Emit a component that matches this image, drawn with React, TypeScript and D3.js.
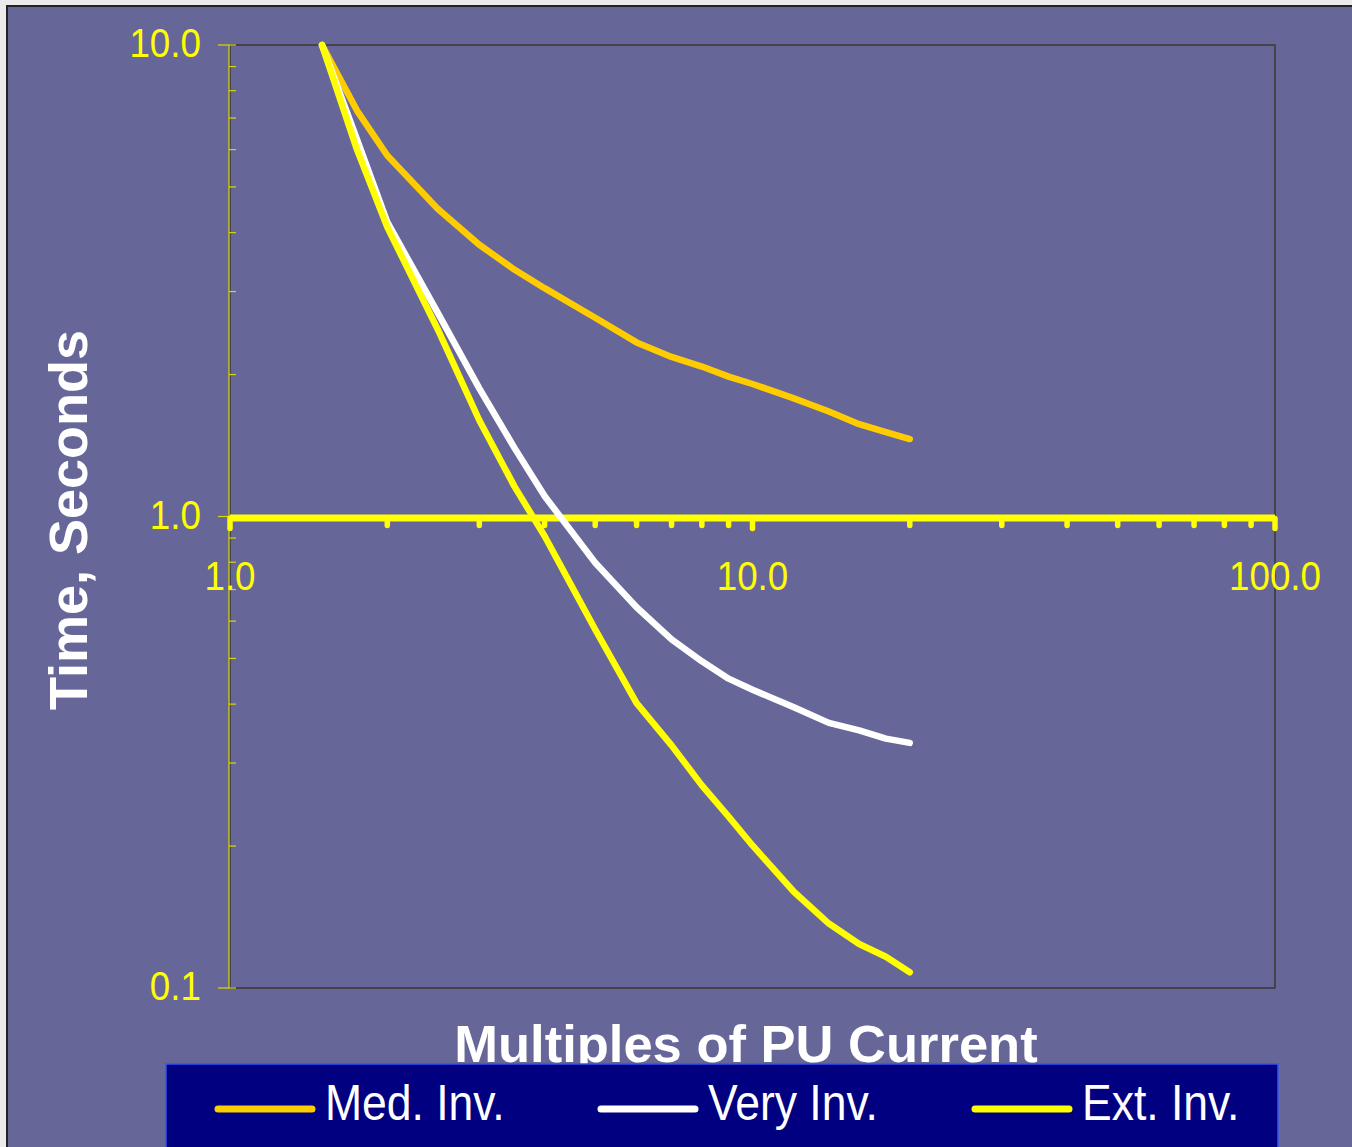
import React from 'react';
import * as d3 from 'd3';

// multiples of pickup current where the curves were read
const multiples = [1.5, 1.75, 2, 2.5, 3, 3.5, 4, 5, 6, 7, 8, 9, 10, 12, 14, 16, 18, 20];
// operating time, seconds
const medInv = [10, 7.26, 5.83, 4.49, 3.77, 3.34, 3.05, 2.64, 2.34, 2.18, 2.08, 1.98, 1.91, 1.78, 1.67, 1.57, 1.51, 1.46];
const veryInv = [10, 6.31, 4.21, 2.7, 1.87, 1.4, 1.105, 0.798, 0.642, 0.549, 0.493, 0.453, 0.429, 0.394, 0.365, 0.352, 0.338, 0.331];
const extInv = [10, 6.0, 4.11, 2.49, 1.6, 1.16, 0.909, 0.576, 0.402, 0.327, 0.269, 0.231, 0.2006, 0.16, 0.137, 0.124, 0.1165, 0.108];

const seriesNames = ['Med. Inv.', 'Very Inv.', 'Ext. Inv.'];
const seriesColors = ['#ffcc00', '#ffffff', '#ffff00'];
const seriesValues = [medInv, veryInv, extInv];

const xMajor = [1, 10, 100];
const xMajorLabels = ['1.0', '10.0', '100.0'];
const yMajor = [10, 1, 0.1];
const yMajorLabels = ['10.0', '1.0', '0.1'];

const W = 1352;
const H = 1147;
const font = '"Liberation Sans", Arial, sans-serif';

// Excel squeezed the glyphs a bit horizontally
function Label({ x, y, size, anchor, sx = 0.92, color = '#ffff00', weight = 'normal', children }: any) {
  return (
    <text
      transform={`translate(${x},${y}) scale(${sx},1)`}
      fontSize={size}
      fontFamily={font}
      fontWeight={weight}
      fill={color}
      textAnchor={anchor}
    >
      {children}
    </text>
  );
}

export default function App() {
  const x = d3.scaleLog().domain([1, 100]).range([230, 1275]);
  const y = d3.scaleLog().domain([0.1, 10]).range([988, 45]);
  const axisY = y(1);

  const line = d3
    .line<number>()
    .x((_, i) => x(multiples[i]))
    .y((d) => y(d));

  const xTicks = x.ticks().filter((t) => !xMajor.includes(t));
  const yTicks = y.ticks().filter((t) => !yMajor.includes(t));

  const legendX = [215, 598, 972];

  return (
    <svg width={W} height={H} style={{ position: 'absolute', left: 0, top: 0, display: 'block' }}>
      <rect x={0} y={0} width={W} height={H} fill="#ebebeb" />
      <rect x={7} y={6} width={W} height={H} fill="#666699" stroke="#222" strokeWidth={2} />

      {/* plot frame */}
      <rect x={230} y={45} width={1045} height={943} fill="none" stroke="#3a3a30" strokeWidth={1.5} />

      {/* y axis */}
      <line x1={229} x2={229} y1={45} y2={988} stroke="#d8d800" strokeWidth={1.2} />
      {yTicks.map((t) => (
        <line key={'ym' + t} x1={229} x2={236} y1={y(t)} y2={y(t)} stroke="#d8d800" strokeWidth={1.2} />
      ))}
      {yMajor.map((t, i) => (
        <g key={'yM' + t}>
          <line x1={218} x2={236} y1={y(t)} y2={y(t)} stroke="#d8d800" strokeWidth={1.2} />
          <Label x={201} y={y(t) + 12} size={40} anchor="end">
            {yMajorLabels[i]}
          </Label>
        </g>
      ))}

      {/* x axis crossing at 1.0 */}
      <line x1={x(1)} x2={x(100)} y1={axisY + 1.5} y2={axisY + 1.5} stroke="#ffff00" strokeWidth={7} />
      {xTicks.map((t) => (
        <line key={'xm' + t} x1={x(t)} x2={x(t)} y1={axisY + 2} y2={axisY + 9} stroke="#ffff00" strokeWidth={5.5} strokeLinecap="round" />
      ))}
      {xMajor.map((t, i) => (
        <g key={'xM' + t}>
          <line x1={x(t)} x2={x(t)} y1={axisY + 2} y2={axisY + 12} stroke="#ffff00" strokeWidth={5.5} strokeLinecap="round" />
          <Label x={x(t)} y={590} size={40} anchor="middle">
            {xMajorLabels[i]}
          </Label>
        </g>
      ))}

      {/* curves */}
      {seriesValues.map((vals, i) => (
        <path
          key={seriesNames[i]}
          d={line(vals) || ''}
          fill="none"
          stroke={seriesColors[i]}
          strokeWidth={6.5}
          strokeLinejoin="round"
          strokeLinecap="round"
        />
      ))}

      {/* axis titles */}
      <text
        transform="translate(87,520) rotate(-90)"
        fontSize={54}
        fontWeight="bold"
        fontFamily={font}
        fill="#ffffff"
        textAnchor="middle"
      >
        Time, Seconds
      </text>
      <text x={746} y={1062} fontSize={52.5} fontWeight="bold" fontFamily={font} fill="#ffffff" textAnchor="middle">
        Multiples of PU Current
      </text>

      {/* legend */}
      <rect x={166} y={1064} width={1112} height={120} fill="#000080" stroke="#3355ee" strokeWidth={1.5} />
      {seriesNames.map((name, i) => (
        <g key={'lg' + name}>
          <line
            x1={legendX[i] + 3}
            x2={legendX[i] + 97}
            y1={1109}
            y2={1109}
            stroke={seriesColors[i]}
            strokeWidth={7}
            strokeLinecap="round"
          />
          <Label x={legendX[i] + 110} y={1120} size={50} sx={0.89} color="#ffffff">
            {name}
          </Label>
        </g>
      ))}
    </svg>
  );
}
